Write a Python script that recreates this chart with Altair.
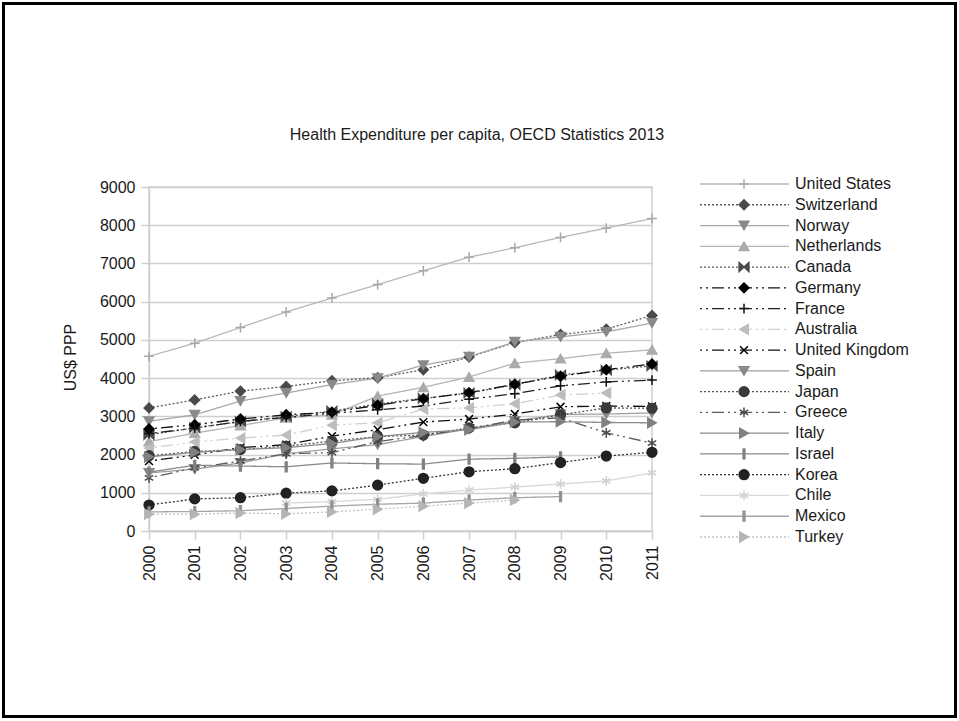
import altair as alt
import pandas as pd

# Health expenditure per capita, US$ PPP (OECD Health Statistics 2013)
years = list(range(2000, 2012))

united_states = [4570, 4915, 5324, 5731, 6096, 6446, 6808, 7165, 7411, 7682, 7925, 8175]
switzerland = [3220, 3430, 3660, 3780, 3930, 4010, 4220, 4550, 4930, 5140, 5280, 5640]
norway = [2870, 3040, 3400, 3610, 3830, 4000, 4340, 4560, 4950, 5080, 5210, 5440]
netherlands = [2340, 2560, 2760, 2960, 3040, 3530, 3760, 4030, 4390, 4510, 4650, 4740]
canada = [2520, 2700, 2860, 2990, 3140, 3320, 3470, 3610, 3830, 4080, 4210, 4320]
germany = [2670, 2780, 2930, 3040, 3110, 3290, 3460, 3620, 3840, 4050, 4220, 4370]
france = [2550, 2690, 2870, 2970, 3080, 3170, 3270, 3450, 3590, 3800, 3900, 3950]
australia = [2170, 2330, 2430, 2510, 2770, 2830, 3190, 3220, 3330, 3560, 3610, None]
united_kingdom = [1830, 1990, 2180, 2260, 2480, 2650, 2850, 2930, 3060, 3250, 3270, 3260]
spain = [1520, 1620, 1780, 2020, 2150, 2260, 2470, 2670, 2880, 3050, 3060, 3090]
japan = [1970, 2080, 2130, 2220, 2350, 2470, 2510, 2700, 2830, 3040, 3220, 3210]
greece = [1390, 1650, 1830, 2020, 2050, 2340, 2500, 2680, 2900, 2960, 2570, 2300]
italy = [1940, 2060, 2130, 2180, 2290, 2470, 2580, 2650, 2850, 2860, 2840, 2830]
israel = [1540, 1720, 1700, 1680, 1780, 1760, 1750, 1880, 1900, 1940, None, None]
korea = [680, 840, 870, 990, 1050, 1200, 1380, 1550, 1630, 1790, 1960, 2060]
chile = [None, None, None, 730, 770, 830, 970, 1070, 1150, 1230, 1310, 1520]
mexico = [500, 510, 530, 590, 650, 700, 730, 810, 870, 900, None, None]
turkey = [440, 440, 470, 450, 500, 570, 650, 730, 810, None, None, None]

countries = ["United States", "Switzerland", "Norway", "Netherlands", "Canada",
             "Germany", "France", "Australia", "United Kingdom", "Spain", "Japan",
             "Greece", "Italy", "Israel", "Korea", "Chile", "Mexico", "Turkey"]
series = [united_states, switzerland, norway, netherlands, canada, germany, france,
          australia, united_kingdom, spain, japan, greece, italy, israel, korea,
          chile, mexico, turkey]

y_ticks = list(range(0, 9001, 1000))
chart_title = "Health Expenditure per capita, OECD Statistics 2013"

# grayscale styling per series
line_colors = ["#b8b8b8", "#5a5a5a", "#a8a8a8", "#b5b5b5", "#555555", "#111111",
               "#222222", "#cfcfcf", "#111111", "#a0a0a0", "#555555", "#5a5a5a",
               "#8c8c8c", "#8c8c8c", "#333333", "#d8d8d8", "#a5a5a5", "#c4c4c4"]
marker_colors = ["#a8a8a8", "#4a4a4a", "#8a8a8a", "#ababab", "#4a4a4a", "#000000",
                 "#111111", "#bdbdbd", "#000000", "#8a8a8a", "#3a3a3a", "#4a4a4a",
                 "#808080", "#808080", "#222222", "#d0d0d0", "#909090", "#b5b5b5"]

solid = [1, 0]
dotted = [2, 2]
dashdot = [2, 4, 2, 4, 12, 4]
dashes = [solid, dotted, solid, solid, dotted, dashdot, dashdot, dashdot, dashdot,
          solid, dotted, dashdot, solid, solid, dotted, solid, solid, dotted]

plus = "M-1,0L1,0M0,-1L0,1"
cross_x = "M-0.8,-0.8L0.8,0.8M-0.8,0.8L0.8,-0.8"
asterisk = "M0,-1L0,1M-0.87,-0.5L0.87,0.5M-0.87,0.5L0.87,-0.5"
bowtie = "M-1,-0.9L0,0L-1,0.9ZM1,-0.9L0,0L1,0.9Z"
bar = "M-0.18,-1L0.18,-1L0.18,1L-0.18,1Z"
shapes = [plus, "diamond", "triangle-down", "triangle-up", bowtie, "diamond", plus,
          "triangle-left", cross_x, "triangle-down", "circle", asterisk,
          "triangle-right", bar, "circle", asterisk, bar, "triangle-right"]

rows = []
for i, (name, vals) in enumerate(zip(countries, series)):
    for yr, v in zip(years, vals):
        if v is not None:
            rows.append({"country": name, "order": i, "year": yr, "value": v})
df = pd.DataFrame(rows)
legend_df = pd.DataFrame({"country": countries, "order": list(range(len(countries)))})

grid_gray = "#cfcfcf"
text_color = "#1a1a1a"

x_enc = alt.X(
    "year:Q",
    scale=alt.Scale(domain=[2000, 2011], nice=False, zero=False),
    axis=alt.Axis(values=years, format="d", labelAngle=270, labelFontSize=16,
                  labelPadding=6, labelColor=text_color, tickSize=8,
                  tickColor=grid_gray, tickWidth=1.5, domainColor=grid_gray,
                  domainWidth=1.5, grid=False, title=None, labelFlush=False,
                  labelOverlap=False),
)
y_scale = alt.Scale(domain=[0, 9000], nice=False)
y_axis = alt.Axis(values=y_ticks, format="d", labelFontSize=16, labelPadding=6,
                  labelColor=text_color, tickSize=8, tickColor=grid_gray,
                  tickWidth=1.5, domainColor=grid_gray, domainWidth=1.5,
                  grid=True, gridColor=grid_gray, gridWidth=1.5,
                  title="US$ PPP", titleFontSize=16, titleFontWeight="normal",
                  titleColor=text_color, titleAngle=270, titleAlign="center",
                  titleBaseline="middle", titleX=-79, titleY=170)

color_enc = alt.Color("country:N", scale=alt.Scale(domain=countries, range=line_colors), legend=None)
dash_enc = alt.StrokeDash("country:N", scale=alt.Scale(domain=countries, range=dashes), legend=None)
fill_enc = alt.Fill("country:N", scale=alt.Scale(domain=countries, range=marker_colors), legend=None)
stroke_enc = alt.Stroke("country:N", scale=alt.Scale(domain=countries, range=marker_colors), legend=None)
shape_enc = alt.Shape("country:N", scale=alt.Scale(domain=countries, range=shapes), legend=None)

base = alt.Chart(df)

lines = base.mark_line(strokeWidth=1.3).encode(
    x=x_enc,
    y=alt.Y("value:Q", scale=y_scale, axis=y_axis),
    color=color_enc,
    strokeDash=dash_enc,
    order=alt.Order("year:Q"),
)

markers = base.mark_point(filled=True, size=95, strokeWidth=1.5, opacity=1).encode(
    x=x_enc,
    y=alt.Y("value:Q", scale=y_scale, axis=None),
    fill=fill_enc,
    stroke=stroke_enc,
    shape=shape_enc,
)

# legend drawn as its own rows, one per country
leg_y = alt.Y("country:N", scale=alt.Scale(type="point", domain=countries, range=[-3, 350], padding=0), axis=None)
leg_base = alt.Chart(legend_df)
leg_lines = leg_base.mark_rule(strokeWidth=1.3).encode(
    y=leg_y, x=alt.value(551), x2=alt.value(640), color=color_enc, strokeDash=dash_enc
)
leg_marks = leg_base.mark_point(filled=True, size=95, strokeWidth=1.5, opacity=1).encode(
    y=leg_y, x=alt.value(595), fill=fill_enc, stroke=stroke_enc, shape=shape_enc
)
leg_text = leg_base.mark_text(align="left", baseline="middle", fontSize=16, color=text_color).encode(
    y=leg_y, x=alt.value(646), text="country:N"
)

# chart heading, centred over plot plus legend
heading = alt.Chart(alt.Data(values=[{"label": chart_title}])).mark_text(
    align="center", baseline="middle", fontSize=16, color=text_color
).encode(x=alt.value(328), y=alt.value(-52), text="label:N")

# outer black frame around the whole figure
frame = alt.Chart(alt.Data(values=[{"k": 0}])).mark_rect(
    fill="transparent", stroke="black", strokeWidth=3
).encode(x=alt.value(-145.5), x2=alt.value(806.5), y=alt.value(-183.5), y2=alt.value(529.5))

chart = (
    alt.layer(frame, heading, lines, markers, leg_lines, leg_marks, leg_text)
    .resolve_scale(y="independent")
    .properties(
        width=503,
        height=344,
        autosize=alt.AutoSizeParams(type="none"),
        padding={"left": 149, "top": 187, "right": 307, "bottom": 190},
        background="white",
    )
    .configure(font="Liberation Sans")
    .configure_view(stroke=grid_gray, strokeWidth=1.5)
)

chart.save("out.html", embed_options={"renderer": "svg", "actions": False})
